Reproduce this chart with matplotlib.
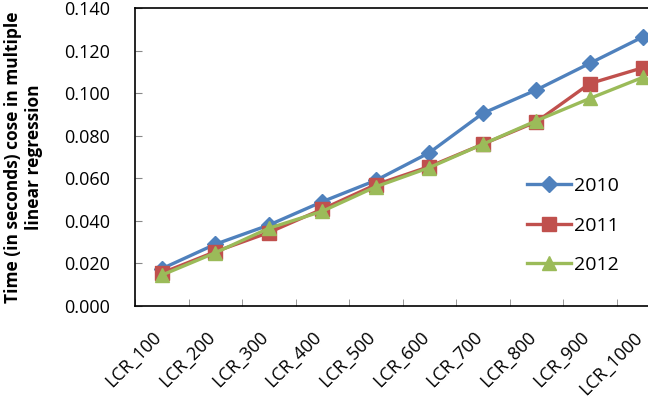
import matplotlib.pyplot as plt
import matplotlib.transforms as mtransforms
import numpy as np

categories = ["LCR_100", "LCR_200", "LCR_300", "LCR_400", "LCR_500",
              "LCR_600", "LCR_700", "LCR_800", "LCR_900", "LCR_1000"]
y2010 = [0.0175, 0.029, 0.038, 0.049, 0.059, 0.072, 0.0905, 0.1015, 0.114, 0.1265]
y2011 = [0.0155, 0.0255, 0.0345, 0.0455, 0.057, 0.0655, 0.076, 0.0865, 0.1045, 0.112]
y2012 = [0.0145, 0.025, 0.0365, 0.0445, 0.056, 0.065, 0.076, 0.087, 0.0975, 0.1075]
yticks = [0.0, 0.02, 0.04, 0.06, 0.08, 0.10, 0.12, 0.14]

plt.rcParams['font.family'] = ['Open Sans', 'DejaVu Sans']

fig = plt.figure(figsize=(6.48, 3.97), dpi=100)
ax = fig.add_axes([135 / 648, 91 / 397, 535 / 648, 298 / 397])

x = np.arange(len(categories))
ax.plot(x, y2010, color='#4F81BD', lw=2.4, marker='D', ms=8.5, label='2010')
ax.plot(x, y2011, color='#C0504D', lw=2.4, marker='s', ms=9.5, label='2011')
ax.plot(x, y2012, color='#9BBB59', lw=2.4, marker='^', ms=10.5, label='2012')

ax.set_xlim(-0.5, 9.5)
ax.set_ylim(0, 0.14)
ax.set_yticks(yticks)
ax.set_yticklabels([f"{v:.3f}" for v in yticks], fontsize=13)
ax.set_xticks(x)
ax.set_xticklabels(categories, fontsize=13, rotation=45, ha='right', va='top',
                   rotation_mode='anchor')
ax.tick_params(axis='x', which='major', length=0, pad=16)
ax.set_xticks(np.arange(-0.5, 10, 1), minor=True)
ax.tick_params(axis='x', which='minor', length=5, direction='in', color='#888888')
ax.tick_params(axis='y', length=5, direction='in', color='#888888', pad=18)

# shift rotated labels a bit left so their upper end sits over the point
shift = mtransforms.ScaledTranslation(-7 / 72, 0, fig.dpi_scale_trans)
for lab in ax.get_xticklabels():
    lab.set_transform(lab.get_transform() + shift)

for s in ax.spines.values():
    s.set_color('black')
    s.set_linewidth(1.2)

ax.set_ylabel("Time (in seconds) cose in multiple\nlinear regression",
              fontsize=12.5, fontweight='bold', labelpad=15)

ax.legend(loc='center left', bbox_to_anchor=(374 / 535, 0.27), frameon=False,
          fontsize=14, handlelength=2.3, labelspacing=1.1, handletextpad=0.15)

fig.savefig("out.png", dpi=100)
